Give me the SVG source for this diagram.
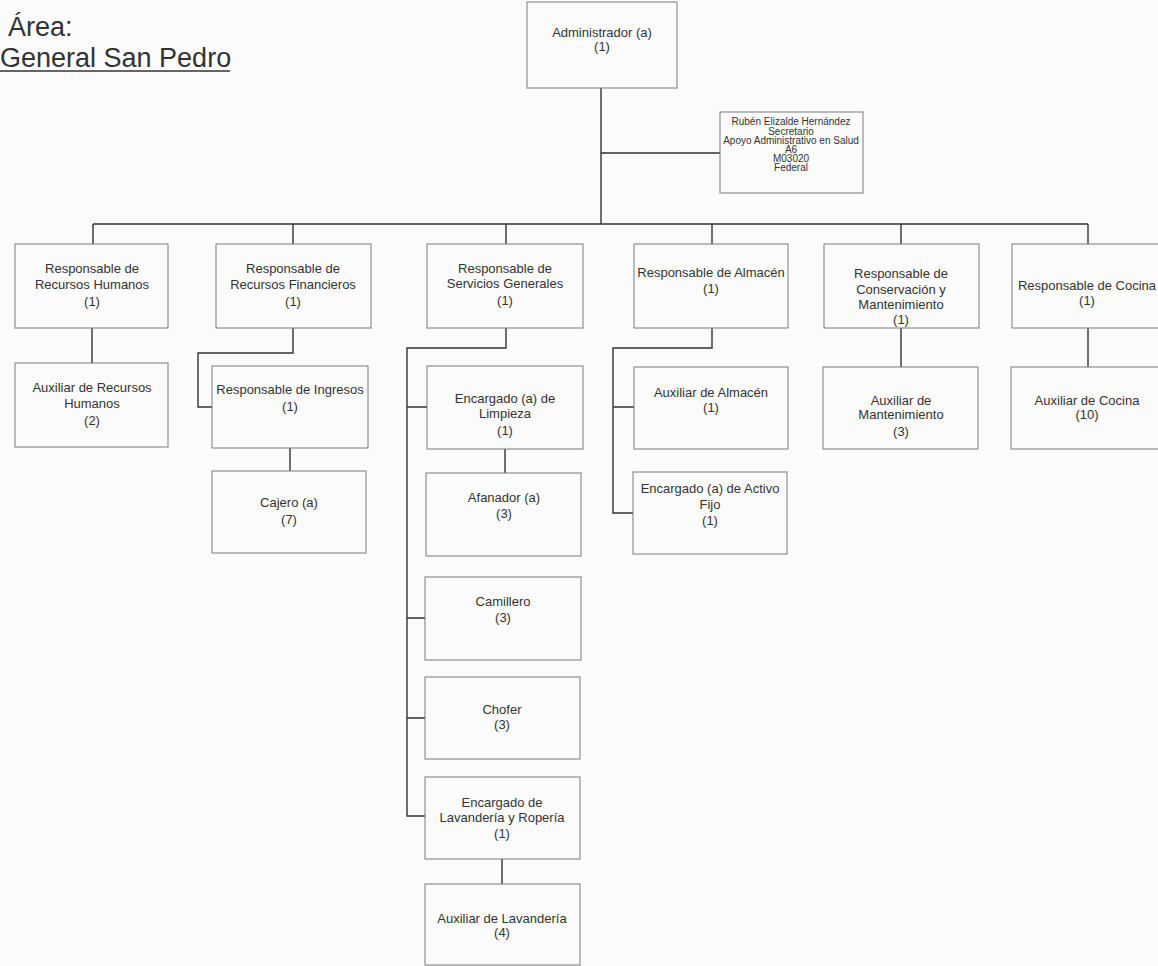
<svg xmlns="http://www.w3.org/2000/svg" width="1158" height="966" viewBox="0 0 1158 966">
<style>
.bg{fill:#fbfbfb}
.box{fill:none;stroke:#7a7a7a;stroke-width:1}
.t{font-family:"Liberation Sans",Arial,sans-serif;font-size:13px;fill:#333;text-anchor:middle}
.s{font-family:"Liberation Sans",Arial,sans-serif;font-size:10px;fill:#333;text-anchor:middle}
.title{font-family:"Liberation Sans",Arial,sans-serif;font-size:27px;fill:#333}
.c{fill:none;stroke:#333;stroke-width:1.4}
</style>
<rect class="bg" x="0" y="0" width="1158" height="966"/>
<g id="title">
<text class="title" x="8" y="36">Área:</text>
<text class="title" x="0" y="67">General San Pedro</text>
<line x1="0" y1="71" x2="230" y2="71" stroke="#333" stroke-width="1.5"/>
</g>
<g id="connectors">
<path class="c" d="M601 88V224M601 153H720M93 224H1088M93 224V244M293 224V244M506 224V244M712 224V244M901 224V244M1088 224V244"/>
<path class="c" d="M92 328V363"/>
<path class="c" d="M293 328V353H198V407H212M290 448V471"/>
<path class="c" d="M506 328V348H407V816H425M407 407H427M407 618H425M407 718H425M505 449V473M502 859V884"/>
<path class="c" d="M712 328V348H613V513H633M613 407H634"/>
<path class="c" d="M901 328V367M1088 328V367"/>
</g>
<g id="admin"><rect class="box" x="527" y="2" width="150" height="86"/><text class="t" x="602" y="37">Administrador (a)</text><text class="t" x="602" y="51">(1)</text></g>
<g id="secretario"><rect class="box" x="720" y="112" width="143" height="81"/>
<text class="s" x="791" y="125">Rubén Elizalde Hernández</text><text class="s" x="791" y="134.5">Secretario</text><text class="s" x="791" y="144">Apoyo Administrativo en Salud</text><text class="s" x="791" y="153">A6</text><text class="s" x="791" y="162">M03020</text><text class="s" x="791" y="171">Federal</text></g>
<g id="rh"><rect class="box" x="15" y="244" width="153" height="84"/><text class="t" x="92" y="273">Responsable de</text><text class="t" x="92" y="289">Recursos Humanos</text><text class="t" x="92" y="306">(1)</text></g>
<g id="rf"><rect class="box" x="216" y="244" width="155" height="84"/><text class="t" x="293" y="273">Responsable de</text><text class="t" x="293" y="289">Recursos Financieros</text><text class="t" x="293" y="306">(1)</text></g>
<g id="sg"><rect class="box" x="427" y="244" width="156" height="84"/><text class="t" x="505" y="273">Responsable de</text><text class="t" x="505" y="288">Servicios Generales</text><text class="t" x="505" y="305">(1)</text></g>
<g id="almacen"><rect class="box" x="634" y="244" width="154" height="84"/><text class="t" x="711" y="277">Responsable de Almacén</text><text class="t" x="711" y="293">(1)</text></g>
<g id="conservacion"><rect class="box" x="824" y="244" width="155" height="84"/><text class="t" x="901" y="278">Responsable de</text><text class="t" x="901" y="294">Conservación y</text><text class="t" x="901" y="309">Mantenimiento</text><text class="t" x="901" y="324">(1)</text></g>
<g id="cocina"><rect class="box" x="1012" y="244" width="151" height="84"/><text class="t" x="1087" y="290">Responsable de Cocina</text><text class="t" x="1087" y="305">(1)</text></g>
<g id="aux-rh"><rect class="box" x="15" y="363" width="153" height="84"/><text class="t" x="92" y="392">Auxiliar de Recursos</text><text class="t" x="92" y="408">Humanos</text><text class="t" x="92" y="425">(2)</text></g>
<g id="ingresos"><rect class="box" x="212" y="366" width="156" height="82"/><text class="t" x="290" y="394">Responsable de Ingresos</text><text class="t" x="290" y="411">(1)</text></g>
<g id="cajero"><rect class="box" x="212" y="471" width="154" height="82"/><text class="t" x="289" y="507">Cajero (a)</text><text class="t" x="289" y="524">(7)</text></g>
<g id="limpieza"><rect class="box" x="427" y="366" width="156" height="83"/><text class="t" x="505" y="403">Encargado (a) de</text><text class="t" x="505" y="418">Limpieza</text><text class="t" x="505" y="435">(1)</text></g>
<g id="afanador"><rect class="box" x="426" y="473" width="155" height="83"/><text class="t" x="504" y="502">Afanador (a)</text><text class="t" x="504" y="518">(3)</text></g>
<g id="camillero"><rect class="box" x="425" y="577" width="156" height="83"/><text class="t" x="503" y="606">Camillero</text><text class="t" x="503" y="622">(3)</text></g>
<g id="chofer"><rect class="box" x="425" y="677" width="155" height="82"/><text class="t" x="502" y="714">Chofer</text><text class="t" x="502" y="729">(3)</text></g>
<g id="lavanderia"><rect class="box" x="425" y="777" width="155" height="82"/><text class="t" x="502" y="807">Encargado de</text><text class="t" x="502" y="822">Lavandería y Ropería</text><text class="t" x="502" y="838">(1)</text></g>
<g id="aux-lavanderia"><rect class="box" x="425" y="884" width="155" height="81"/><text class="t" x="502" y="923">Auxiliar de Lavandería</text><text class="t" x="502" y="937">(4)</text></g>
<g id="aux-almacen"><rect class="box" x="634" y="367" width="154" height="82"/><text class="t" x="711" y="397">Auxiliar de Almacén</text><text class="t" x="711" y="412">(1)</text></g>
<g id="activo-fijo"><rect class="box" x="633" y="472" width="154" height="82"/><text class="t" x="710" y="493">Encargado (a) de Activo</text><text class="t" x="710" y="509">Fijo</text><text class="t" x="710" y="525">(1)</text></g>
<g id="aux-mant"><rect class="box" x="823" y="367" width="155" height="82"/><text class="t" x="901" y="405">Auxiliar de</text><text class="t" x="901" y="419">Mantenimiento</text><text class="t" x="901" y="436">(3)</text></g>
<g id="aux-cocina"><rect class="box" x="1011" y="367" width="152" height="82"/><text class="t" x="1087" y="405">Auxiliar de Cocina</text><text class="t" x="1087" y="419">(10)</text></g>
</svg>
